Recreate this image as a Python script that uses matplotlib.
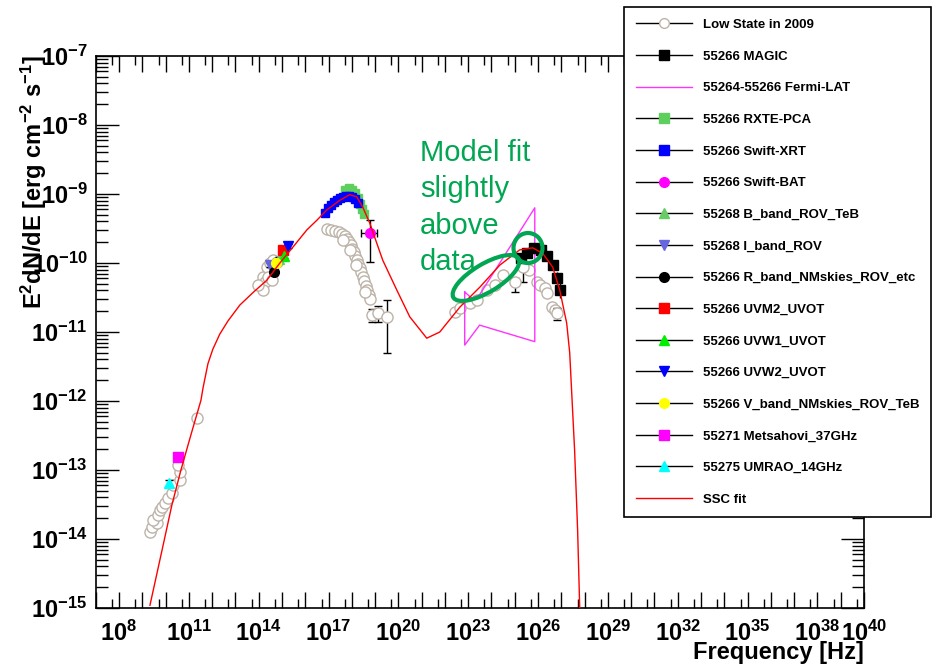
import numpy as np
import matplotlib
matplotlib.use('Agg')
import matplotlib.pyplot as plt
from matplotlib.lines import Line2D
from matplotlib.patches import Ellipse
from matplotlib.ticker import FixedLocator, FuncFormatter, NullFormatter

plt.rcParams['font.family'] = ['Liberation Sans', 'DejaVu Sans']
plt.rcParams['mathtext.fontset'] = 'custom'
plt.rcParams['mathtext.rm'] = 'Liberation Sans:bold'
plt.rcParams['mathtext.it'] = 'Liberation Sans:bold'
plt.rcParams['mathtext.bf'] = 'Liberation Sans:bold'

# ======================
# DATA (log10 of frequency [Hz] and of E^2 dN/dE [erg cm^-2 s^-1])
# ======================
# SSC model curve
ssc_lognu = [9.33, 9.85, 10.27, 10.66, 11.09, 11.52, 11.61, 11.82, 12.03, 12.33,
             12.68, 13.19, 13.75, 14.35, 14.91, 15.47, 16.07, 16.50, 16.93, 17.49,
             17.91, 18.21, 18.47, 18.77, 19.07, 19.33, 19.93, 20.49, 21.22, 21.78,
             22.64, 23.50, 24.36, 25.21, 25.77, 26.20, 26.63, 26.93, 27.23, 27.36,
             27.57, 27.70, 27.79]
ssc_logf = [-14.96, -14.16, -13.51, -13.00, -12.49, -11.99, -11.81, -11.46, -11.25, -11.03,
            -10.84, -10.61, -10.43, -10.25, -10.00, -9.77, -9.52, -9.38, -9.23, -9.09,
            -9.01, -9.04, -9.19, -9.42, -9.71, -9.96, -10.39, -10.78, -11.09, -11.00,
            -10.64, -10.35, -10.03, -9.81, -9.78, -9.86, -10.06, -10.39, -10.87, -11.30,
            -12.71, -13.87, -15.0]

# Low state 2009 (archival)
low_lognu = [9.33, 9.42, 9.63, 9.46, 9.67, 9.76, 9.85, 9.98, 10.10, 10.27,
             10.32, 10.62, 10.62, 10.53, 11.35,
             14.14, 14.18, 14.27, 14.35, 14.48, 14.61, 14.78, 14.40, 14.57, 14.18, 13.97,
             16.92, 17.10, 17.27, 17.44, 17.57, 17.70, 17.79, 17.87, 17.96, 18.00,
             18.09, 18.13, 18.21, 18.26, 18.34, 18.39, 18.47, 18.52, 18.60, 18.64,
             18.73, 18.77, 17.61, 17.91, 18.17, 18.56,
             22.42, 22.63, 23.06, 23.36, 23.79, 24.14, 24.48, 25.60, 25.94, 26.07,
             26.28, 26.37, 26.58, 26.71]
low_logf = [-13.90, -13.83, -13.77, -13.72, -13.65, -13.58, -13.54, -13.48, -13.41, -13.33,
            -13.22, -13.14, -13.03, -12.93, -12.25,
            -10.35, -10.20, -10.28, -10.06, -10.00, -9.96, -9.99, -10.20, -10.25, -10.39, -10.32,
            -9.51, -9.52, -9.54, -9.55, -9.58, -9.61, -9.65, -9.70, -9.74, -9.80,
            -9.84, -9.90, -9.96, -10.01, -10.07, -10.13, -10.20, -10.26, -10.33, -10.39,
            -10.46, -10.52, -9.67, -9.81, -10.03, -10.42,
            -10.71, -10.65, -10.58, -10.54, -10.39, -10.32, -10.17, -10.10, -10.28, -10.32,
            -10.36, -10.43, -10.64, -10.68]
# low state points with error bars: (lognu, logf, log_low, log_high)
low_err_lognu = [18.86, 19.12, 19.50, 24.99, 25.34, 26.80]
low_err_logf = [-10.75, -10.72, -10.78, -10.28, -10.06, -10.72]
low_err_lo = [-10.85, -10.85, -11.30, -10.42, -10.28, -10.82]
low_err_hi = [-10.66, -10.62, -10.54, -10.22, -10.00, -10.65]

# MAGIC 55266
magic_lognu = [25.26, 25.51, 25.81, 26.11, 26.37, 26.63, 26.80, 26.93]
magic_logf = [-9.93, -9.86, -9.78, -9.81, -9.90, -10.03, -10.22, -10.39]
magic_dlog = [0.05, 0.05, 0.05, 0.05, 0.06, 0.07, 0.09, 0.12]

# Fermi-LAT butterfly outline
fermi_lognu = [22.85, 23.15, 23.49, 25.86, 25.86, 23.49, 22.85, 22.85]
fermi_logf = [-10.42, -10.51, -10.46, -9.20, -11.14, -10.90, -11.19, -10.42]

# RXTE-PCA
rxte_lognu = [17.70, 17.87, 18.00, 18.13, 18.26, 18.34, 18.43, 18.51]
rxte_logf = [-8.94, -8.91, -8.94, -8.99, -9.06, -9.14, -9.22, -9.29]

# Swift-XRT
xrt_lognu = [16.84, 16.97, 17.10, 17.23, 17.35, 17.49, 17.61, 17.74, 17.87, 18.00, 18.13, 18.26]
xrt_logf = [-9.28, -9.20, -9.16, -9.12, -9.09, -9.06, -9.04, -9.03, -9.03, -9.04, -9.07, -9.13]

# Swift-BAT
bat_lognu = [18.77]
bat_logf = [-9.57]
bat_lognu_range = [18.38, 19.07]
bat_logf_range = [-9.99, -9.38]

# optical / UV / radio single points
opt_names = ['55268 B_band_ROV_TeB', '55268 I_band_ROV', '55266 R_band_NMskies_ROV_etc',
             '55266 UVM2_UVOT', '55266 UVW1_UVOT', '55266 UVW2_UVOT',
             '55266 V_band_NMskies_ROV_TeB', '55271 Metsahovi_37GHz', '55275 UMRAO_14GHz']
opt_lognu = [14.87, 14.48, 14.65, 15.04, 15.08, 15.25, 14.74, 10.53, 10.15]
opt_logf = [-9.94, -10.03, -10.13, -9.81, -9.90, -9.75, -10.00, -12.81, -13.19]
opt_dlog = [0.03, 0.03, 0.04, 0.03, 0.03, 0.03, 0.03, 0.05, 0.05]
opt_colors = ['#66cc66', '#6666dd', 'black', 'red', '#00ee00', 'blue', 'yellow', 'magenta', 'cyan']
opt_markers = ['^', 'v', 'o', 's', '^', 'v', 'o', 's', '^']

legend_labels = ['Low State in 2009', '55266 MAGIC', '55264-55266 Fermi-LAT', '55266 RXTE-PCA',
                 '55266 Swift-XRT', '55266 Swift-BAT'] + opt_names + ['SSC fit']

def p(v):
    return 10.0 ** np.asarray(v, dtype=float)

# ======================
# FIGURE
# ======================
fig = plt.figure(figsize=(9.32, 6.66), dpi=100)
ax = fig.add_axes([0.1027, 0.0871, 0.8243, 0.8288])
ax.set_xscale('log')
ax.set_yscale('log')
ax.set_xlim(1e7, 1e40)
ax.set_ylim(1e-15, 1e-7)

grey = '#bdb3a8'
ax.plot(p(low_lognu), p(low_logf), 'o', ms=8, mfc='white', mec=grey, mew=1, zorder=2)
lf = p(low_err_logf)
ax.errorbar(p(low_err_lognu), lf, yerr=[lf - p(low_err_lo), p(low_err_hi) - lf],
            fmt='o', ms=8, mfc='white', mec=grey, mew=1, ecolor='black', elinewidth=1,
            capsize=3, zorder=2)

ax.plot(p(fermi_lognu), p(fermi_logf), color='#ff33ff', lw=1, zorder=3)

mf = p(magic_logf)
ax.errorbar(p(magic_lognu), mf, yerr=[mf - mf * 10 ** -np.array(magic_dlog), mf * 10 ** np.array(magic_dlog) - mf],
            fmt='s', ms=6.5, color='black', ecolor='black', elinewidth=1, zorder=4)
ax.plot(p(rxte_lognu), p(rxte_logf), 's', ms=6, color='#5ccf5c', zorder=4)
ax.plot(p(xrt_lognu), p(xrt_logf), 's', ms=6, color='blue', zorder=4)
bf = p(bat_logf)
ax.errorbar(p(bat_lognu), bf,
            xerr=[p(bat_lognu) - p(bat_lognu_range[0]), p(bat_lognu_range[1]) - p(bat_lognu)],
            yerr=[bf - p(bat_logf_range[0]), p(bat_logf_range[1]) - bf],
            fmt='o', ms=7, color='magenta', ecolor='black', elinewidth=1, capsize=3, zorder=4)

for nu, f, d, c, m in zip(opt_lognu, opt_logf, opt_dlog, opt_colors, opt_markers):
    yv = 10.0 ** f
    ax.errorbar([10.0 ** nu], [yv], yerr=[[yv - yv * 10 ** -d], [yv * 10 ** d - yv]],
                fmt=m, ms=7, color=c, ecolor='black', elinewidth=1, capsize=3, zorder=5)

ax.plot(p(ssc_lognu), p(ssc_logf), color='red', lw=1, zorder=6)

# ======================
# AXES STYLE (ROOT look)
# ======================
labelled = [8, 11, 14, 17, 20, 23, 26, 29, 32, 35, 38, 40]
ax.xaxis.set_major_locator(FixedLocator(10.0 ** np.arange(7, 41)))
ax.xaxis.set_minor_locator(FixedLocator(5 * 10.0 ** np.arange(7, 40)))
ax.xaxis.set_major_formatter(FuncFormatter(
    lambda v, pos: r'$10^{%d}$' % round(np.log10(v)) if round(np.log10(v)) in labelled else ''))
ax.xaxis.set_minor_formatter(NullFormatter())

ax.yaxis.set_major_locator(FixedLocator(10.0 ** np.arange(-15, -6)))
ax.yaxis.set_minor_locator(FixedLocator([k * 10.0 ** e for e in range(-15, -7) for k in range(2, 10)]))
ax.yaxis.set_major_formatter(FuncFormatter(lambda v, pos: r'$10^{%d}$' % round(np.log10(v))))
ax.yaxis.set_minor_formatter(NullFormatter())

ax.tick_params(which='both', direction='in', top=True, right=True, width=1, labelsize=17)
ax.tick_params(axis='y', which='major', length=16.5, pad=6)
ax.tick_params(axis='y', which='minor', length=8.6)
ax.tick_params(axis='x', which='major', length=11.5, pad=9)
ax.tick_params(axis='x', which='minor', length=6.5)
for s in ax.spines.values():
    s.set_linewidth(1.2)

fig.text(34 / 932, 1 - 55 / 666, r'E$^{2}$dN/dE [erg cm$^{-2}$ s$^{-1}$]', rotation=90,
         ha='center', va='top', fontsize=17, fontweight='bold')
fig.text(864 / 932, 1 - 653 / 666, 'Frequency [Hz]', ha='right', va='center',
         fontsize=17, fontweight='bold')

# annotation
green = '#00a651'
fig.text(420 / 932, 1 - 139 / 666, 'Model fit\nslightly\nabove\ndata', color=green,
         fontsize=21, va='top', ha='left', linespacing=1.38)
fig.add_artist(Ellipse((4.86, (666 - 278) / 100), 0.76, 0.28, angle=31, fill=False,
                       ec=green, lw=3, transform=fig.dpi_scale_trans))
fig.add_artist(Ellipse((5.28, (666 - 248) / 100), 0.29, 0.30, fill=False,
                       ec=green, lw=3, transform=fig.dpi_scale_trans))

# legend
handles = [Line2D([], [], color='black', lw=1, marker='o', ms=7, mfc='white', mec=grey),
           Line2D([], [], color='black', lw=1, marker='s', ms=6.5, mfc='black', mec='black'),
           Line2D([], [], color='#ff33ff', lw=1),
           Line2D([], [], color='black', lw=1, marker='s', ms=6.5, mfc='#5ccf5c', mec='#5ccf5c'),
           Line2D([], [], color='black', lw=1, marker='s', ms=6.5, mfc='blue', mec='blue'),
           Line2D([], [], color='black', lw=1, marker='o', ms=7, mfc='magenta', mec='magenta')]
for c, m in zip(opt_colors, opt_markers):
    handles.append(Line2D([], [], color='black', lw=1, marker=m, ms=7, mfc=c, mec=c))
handles.append(Line2D([], [], color='red', lw=1))

leg = ax.legend(handles, legend_labels, loc='upper left', bbox_to_anchor=(624 / 932, 1 - 7 / 666),
                bbox_transform=fig.transFigure, fancybox=False, framealpha=1, edgecolor='black',
                prop={'weight': 'bold', 'size': 9.5}, handlelength=4.25, handletextpad=0.83,
                borderpad=0.9, labelspacing=1.47, borderaxespad=0)
leg.get_frame().set_linewidth(1.2)
leg.set_zorder(10)

fig.savefig('out.png', dpi=100)
